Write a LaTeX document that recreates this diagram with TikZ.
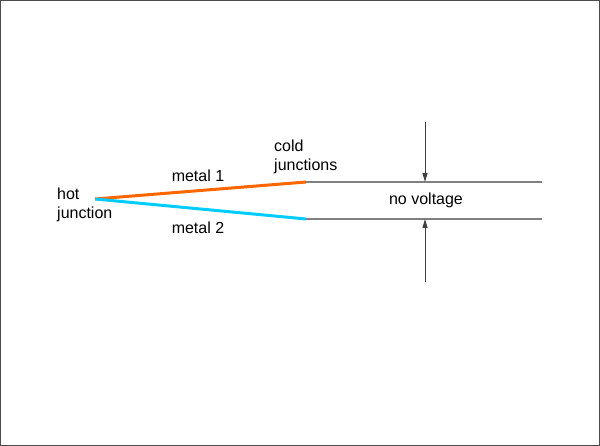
\documentclass[tikz,border=0pt]{standalone}
\usepackage{fontspec}
\setmainfont{Liberation Sans}
\usetikzlibrary{arrows.meta}
\definecolor{metalA}{RGB}{255,102,0}
\definecolor{metalB}{RGB}{0,204,255}
\definecolor{wire}{RGB}{128,128,128}
\tikzset{
  lbl/.style={font=\fontsize{16}{19}\selectfont, inner sep=0pt, align=left},
  wireline/.style={draw=wire, line width=1.3pt},
  arr/.style={draw=black!75, line width=1pt, -{Triangle[length=9pt,width=5pt]}}
}
\begin{document}
\begin{tikzpicture}[x=1pt,y=-1pt]
\useasboundingbox (0,0) rectangle (600,446);
\draw[black!70, line width=1pt] (0.5,0.5) rectangle (599.5,445.5);
\coordinate (hot) at (95,199);
\coordinate (c1) at (306,182);
\coordinate (c2) at (306,219);
\coordinate (e1) at (542,182);
\coordinate (e2) at (542,219);
\coordinate (t1) at (425,122);
\coordinate (b1) at (425,182);
\coordinate (t2) at (425,282);
\coordinate (b2) at (425,219);
\draw[metalA, line width=3pt] (hot) -- (c1);
\draw[metalB, line width=3pt] (hot) -- (c2);
\draw[wireline] (c1) -- (e1);
\draw[wireline] (c2) -- (e2);
\draw[arr] (t1) -- (b1);
\draw[arr] (t2) -- (b2);
\node[lbl, anchor=west] (hj) at (57,205) {hot\\junction};
\node[lbl] (m1) at (198,176) {metal 1};
\node[lbl] (m2) at (198,228) {metal 2};
\node[lbl, anchor=west] (cj) at (274,157) {cold\\junctions};
\node[lbl] (nv) at (426,200) {no voltage};
\end{tikzpicture}
\end{document}
